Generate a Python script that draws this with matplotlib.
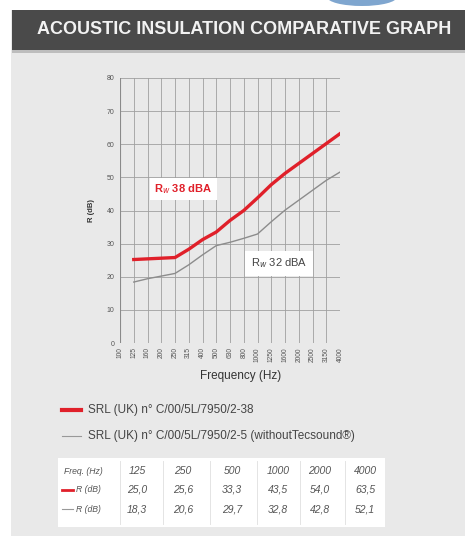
import matplotlib.pyplot as plt
from matplotlib.patches import Rectangle, Ellipse

plt.rcParams["font.family"] = ["Liberation Sans", "DejaVu Sans"]

freqs = ["100", "125", "160", "200", "250", "315", "400", "500", "630",
         "800", "1000", "1250", "1600", "2000", "2500", "3150", "4000"]
# series start at 125 Hz
r_tecsound = [25.2, 25.4, 25.6, 25.8, 28.3, 31.2, 33.5, 37.0,
              40.0, 43.8, 47.8, 51.2, 54.2, 57.2, 60.2, 63.2]
r_without = [18.4, 19.4, 20.2, 21.0, 23.6, 26.6, 29.4, 30.4,
             31.6, 32.9, 36.6, 40.1, 43.1, 46.1, 49.1, 51.6]

table_freq = ["125", "250", "500", "1000", "2000", "4000"]
table_red = ["25,0", "25,6", "33,3", "43,5", "54,0", "63,5"]
table_grey = ["18,3", "20,6", "29,7", "32,8", "42,8", "52,1"]

RED = "#e0202a"
GREY_LINE = "#8c8c8c"
BG = "#e9e9e9"
TXT = "#555555"

W, H = 465, 536


def fx(px):
    return px / W


def fy(py):
    return 1 - py / H


fig = plt.figure(figsize=(4.65, 5.36), dpi=100)
fig.patch.set_facecolor(BG)

# white frame strips, logo swoosh and header band
fig.patches.append(Rectangle((0, 0), fx(11), 1, transform=fig.transFigure,
                             facecolor="white", edgecolor="none"))
fig.patches.append(Rectangle((0, fy(10)), 1, 10 / H, transform=fig.transFigure,
                             facecolor="white", edgecolor="none"))
fig.patches.append(Ellipse((fx(362), fy(-3)), 70 / W, 18 / H,
                           transform=fig.transFigure, facecolor="#7fa6cf",
                           edgecolor="none"))
fig.patches.append(Rectangle((fx(12), fy(50)), 1, 40 / H,
                             transform=fig.transFigure, facecolor="#4a4a4a",
                             edgecolor="none"))
fig.patches.append(Rectangle((fx(12), fy(53)), 1, 3 / H,
                             transform=fig.transFigure, facecolor="#bdbdbd",
                             edgecolor="none"))
fig.text(fx(244), fy(30), "ACOUSTIC INSULATION COMPARATIVE GRAPH",
         color="#f2f2f2", fontsize=13, fontweight="bold",
         ha="center", va="center")

ax = fig.add_axes([fx(120), fy(343), 220 / W, 265 / H])
ax.set_facecolor(BG)
x = list(range(len(freqs)))
ax.plot(x[1:], r_without, color=GREY_LINE, linewidth=1.0, zorder=3)
ax.plot(x[1:], r_tecsound, color=RED, linewidth=2.4, zorder=4)

ax.set_xlim(0, len(freqs) - 1)
ax.set_ylim(0, 80)
ax.set_xticks(x)
ax.set_xticklabels(freqs, rotation=90, fontsize=4.8, color=TXT)
ax.set_yticks(range(0, 81, 10))
ax.tick_params(axis="y", labelsize=5, labelcolor=TXT, length=0, pad=4)
ax.tick_params(axis="x", length=0, pad=3)
ax.grid(True, color="#a0a0a0", linewidth=0.6)
for s in ax.spines.values():
    s.set_visible(False)
ax.axvline(0, color="#8a8a8a", linewidth=0.8)

ax.set_ylabel("R (dB)", fontsize=5.5, color="#333333", fontweight="bold",
              labelpad=8)
fig.text(fx(241), fy(376), "Frequency (Hz)", fontsize=8.5, color="#333333",
         ha="center", va="center")

ax.text(2.5, 46.5, "R$_w$ 38 dBA", color=RED, fontsize=8,
        fontweight="bold", ha="left", va="center", zorder=6,
        bbox=dict(facecolor="white", edgecolor="none", pad=3))
ax.text(9.5, 24.0, "R$_w$ 32 dBA", color="#444444", fontsize=8,
        ha="left", va="center", zorder=6,
        bbox=dict(facecolor="white", edgecolor="none", pad=4))

# legend
fig.lines.append(plt.Line2D([fx(62), fx(81)], [fy(410)] * 2,
                            transform=fig.transFigure, color=RED, linewidth=3))
fig.lines.append(plt.Line2D([fx(62), fx(81)], [fy(436)] * 2,
                            transform=fig.transFigure, color="#999999",
                            linewidth=0.8))
fig.text(fx(88), fy(410), "SRL (UK) n° C/00/5L/7950/2-38",
         fontsize=8.5, color="#444444", va="center")
fig.text(fx(88), fy(436),
         "SRL (UK) n° C/00/5L/7950/2-5 (withoutTecsound®)",
         fontsize=8.5, color="#444444", va="center")

# table
fig.patches.append(Rectangle((fx(58), fy(527)), 327 / W, 69 / H,
                             transform=fig.transFigure, facecolor="white",
                             edgecolor="none"))
col_x = [137, 183, 232, 278, 320, 365]
row_y = [471, 490, 509]
rows = [table_freq, table_red, table_grey]
row_names = ["Freq. (Hz)", "R (dB)", "R (dB)"]
row_name_x = [64, 76, 76]
for r, row in enumerate(rows):
    fig.text(fx(row_name_x[r]), fy(row_y[r]), row_names[r], fontsize=6.2,
             style="italic", color="#555555", ha="left", va="center")
    for c, val in enumerate(row):
        fig.text(fx(col_x[c]), fy(row_y[r]), val, fontsize=7.5,
                 style="italic", color="#555555", ha="center", va="center")
for cx in [120, 163, 210, 257, 300, 345]:
    fig.lines.append(plt.Line2D([fx(cx)] * 2, [fy(524), fy(461)],
                                transform=fig.transFigure, color="#e4e4e4",
                                linewidth=0.7))
fig.lines.append(plt.Line2D([fx(62), fx(73)], [fy(490)] * 2,
                            transform=fig.transFigure, color=RED, linewidth=2))
fig.lines.append(plt.Line2D([fx(62), fx(73)], [fy(509)] * 2,
                            transform=fig.transFigure, color="#999999",
                            linewidth=0.8))

fig.savefig("out.png", dpi=100, facecolor=fig.get_facecolor())
